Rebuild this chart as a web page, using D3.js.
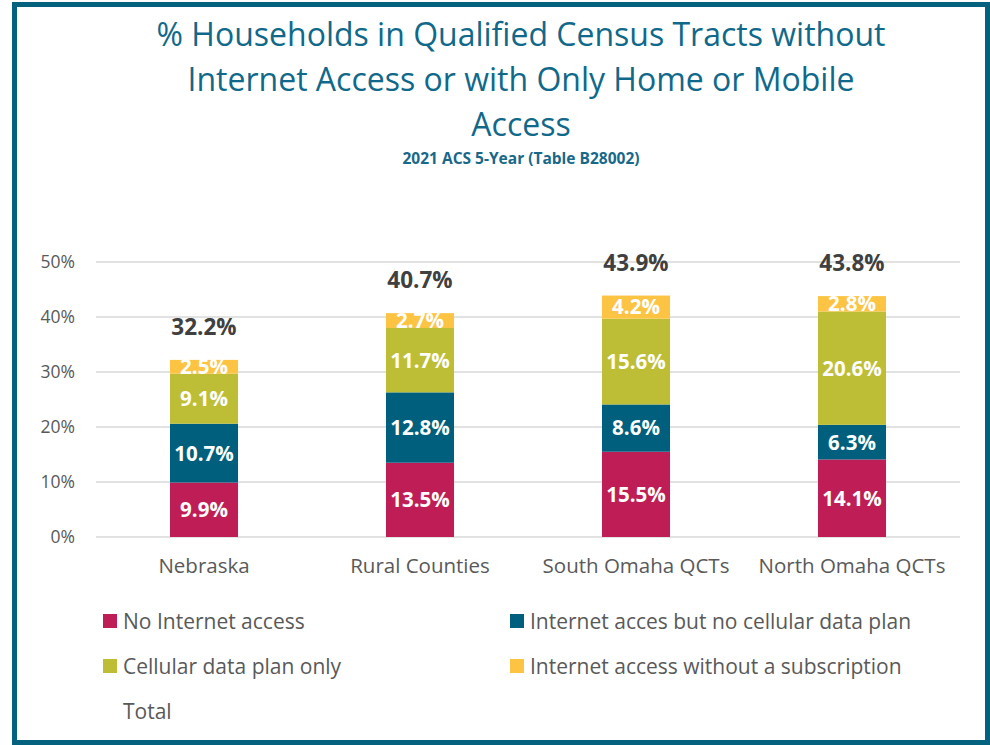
<!DOCTYPE html>
<html>
<head>
<meta charset="utf-8">
<script src="https://cdn.jsdelivr.net/npm/d3@7"></script>
<style>
  html, body { margin: 0; padding: 0; background: #fff; }
  svg { display: block; font-family: "Open Sans", "Noto Sans", sans-serif; }
</style>
</head>
<body>
<svg id="chart" width="990" height="745"></svg>
<script>
// Household internet access in Qualified Census Tracts (ACS 2021 5-year, B28002)
const categories = ["Nebraska", "Rural Counties", "South Omaha QCTs", "North Omaha QCTs"];
const seriesNames = [
  "No Internet access",
  "Internet acces but no cellular data plan",
  "Cellular data plan only",
  "Internet access without a subscription"
];
const noInternet     = [9.9, 13.5, 15.5, 14.1];
const internetNoCell = [10.7, 12.8, 8.6, 6.3];
const cellularOnly   = [9.1, 11.7, 15.6, 20.6];
const noSubscription = [2.5, 2.7, 4.2, 2.8];
const totals         = [32.2, 40.7, 43.9, 43.8];
const yTicks = [0, 10, 20, 30, 40, 50];
const colors = ["#BE1E55", "#005F7D", "#BDBE35", "#FDC443"];

const svg = d3.select("#chart");

// outer frame
svg.append("rect")
  .attr("x", 14.5).attr("y", 4.5)
  .attr("width", 973).attr("height", 738)
  .attr("fill", "none").attr("stroke", "#04627F").attr("stroke-width", 5);

// titles
const titleLines = [
  "% Households in Qualified Census Tracts without",
  "Internet Access or with Only Home or Mobile",
  "Access"
];
svg.append("g").selectAll("text").data(titleLines).join("text")
  .attr("x", 521).attr("y", (d, i) => 46 + i * 45)
  .attr("text-anchor", "middle")
  .attr("font-size", 32)
  .attr("fill", "#10698A")
  .text(d => d);

svg.append("text")
  .attr("x", 521).attr("y", 164)
  .attr("text-anchor", "middle")
  .attr("font-size", 15.5).attr("font-weight", "bold")
  .attr("fill", "#18688A")
  .text("2021 ACS 5-Year (Table B28002)");

// scales
const x = d3.scaleBand().domain(categories).range([96, 960]).paddingInner(0.685).paddingOuter(0.3425);
const y = d3.scaleLinear().domain([0, 50]).range([537, 262]);

// gridlines
svg.append("g").selectAll("line").data(yTicks).join("line")
  .attr("x1", 96).attr("x2", 960)
  .attr("y1", d => y(d)).attr("y2", d => y(d))
  .attr("stroke", "#D9D9D9").attr("stroke-width", 1.5);

// y axis labels
const yAxis = d3.axisLeft(y).tickValues(yTicks).tickFormat(d => d + "%").tickSize(0).tickPadding(0);
const yg = svg.append("g").attr("transform", "translate(75,0)").call(yAxis);
yg.select(".domain").remove();
yg.selectAll("text").attr("font-size", 17.5).attr("fill", "#595959").attr("font-family", "Open Sans, sans-serif");

// x axis labels
const xAxis = d3.axisBottom(x).tickSize(0).tickPadding(0);
const xg = svg.append("g").attr("transform", "translate(0,558)").call(xAxis);
xg.select(".domain").remove();
xg.selectAll("text").attr("font-size", 20.5).attr("fill", "#595959").attr("font-family", "Open Sans, sans-serif");

// stacked data
const rows = categories.map((c, i) => ({
  cat: c,
  s0: noInternet[i], s1: internetNoCell[i], s2: cellularOnly[i], s3: noSubscription[i]
}));
const stack = d3.stack().keys(["s0", "s1", "s2", "s3"]);
const layers = stack(rows);

const layerG = svg.append("g").selectAll("g").data(layers).join("g")
  .attr("fill", (d, i) => colors[i]);

layerG.selectAll("rect").data(d => d).join("rect")
  .attr("x", d => x(d.data.cat))
  .attr("width", x.bandwidth())
  .attr("y", d => y(d[1]))
  .attr("height", d => y(d[0]) - y(d[1]));

// segment value labels
const labelG = svg.append("g").selectAll("g").data(layers).join("g");
labelG.selectAll("text").data(d => d.map(p => ({p, key: d.key}))).join("text")
  .attr("x", d => x(d.p.data.cat) + x.bandwidth() / 2)
  .attr("y", d => y((d.p[0] + d.p[1]) / 2))
  .attr("dy", "0.36em")
  .attr("text-anchor", "middle")
  .attr("font-size", 20.5).attr("font-weight", "bold")
  .attr("fill", "#fff")
  .text(d => d.p.data[d.key].toFixed(1) + "%");

// totals
svg.append("g").selectAll("text").data(categories).join("text")
  .attr("x", d => x(d) + x.bandwidth() / 2)
  .attr("y", (d, i) => y(totals[i]) - 33)
  .attr("dy", "0.36em")
  .attr("text-anchor", "middle")
  .attr("font-size", 22.5).attr("font-weight", "bold")
  .attr("fill", "#404040")
  .text((d, i) => totals[i].toFixed(1) + "%");

// legend
const legendItems = [
  {name: seriesNames[0], color: colors[0], x: 103, y: 621},
  {name: seriesNames[1], color: colors[1], x: 510, y: 621},
  {name: seriesNames[2], color: colors[2], x: 103, y: 666},
  {name: seriesNames[3], color: colors[3], x: 510, y: 666},
  {name: "Total", color: null, x: 103, y: 711}
];
const lg = svg.append("g").selectAll("g").data(legendItems).join("g")
  .attr("transform", d => `translate(${d.x},${d.y})`);
lg.filter(d => d.color).append("rect")
  .attr("x", 0).attr("y", -7).attr("width", 14).attr("height", 14)
  .attr("fill", d => d.color);
lg.append("text")
  .attr("x", 20).attr("dy", "0.36em")
  .attr("font-size", 21).attr("fill", "#595959")
  .text(d => d.name);
</script>
</body>
</html>
